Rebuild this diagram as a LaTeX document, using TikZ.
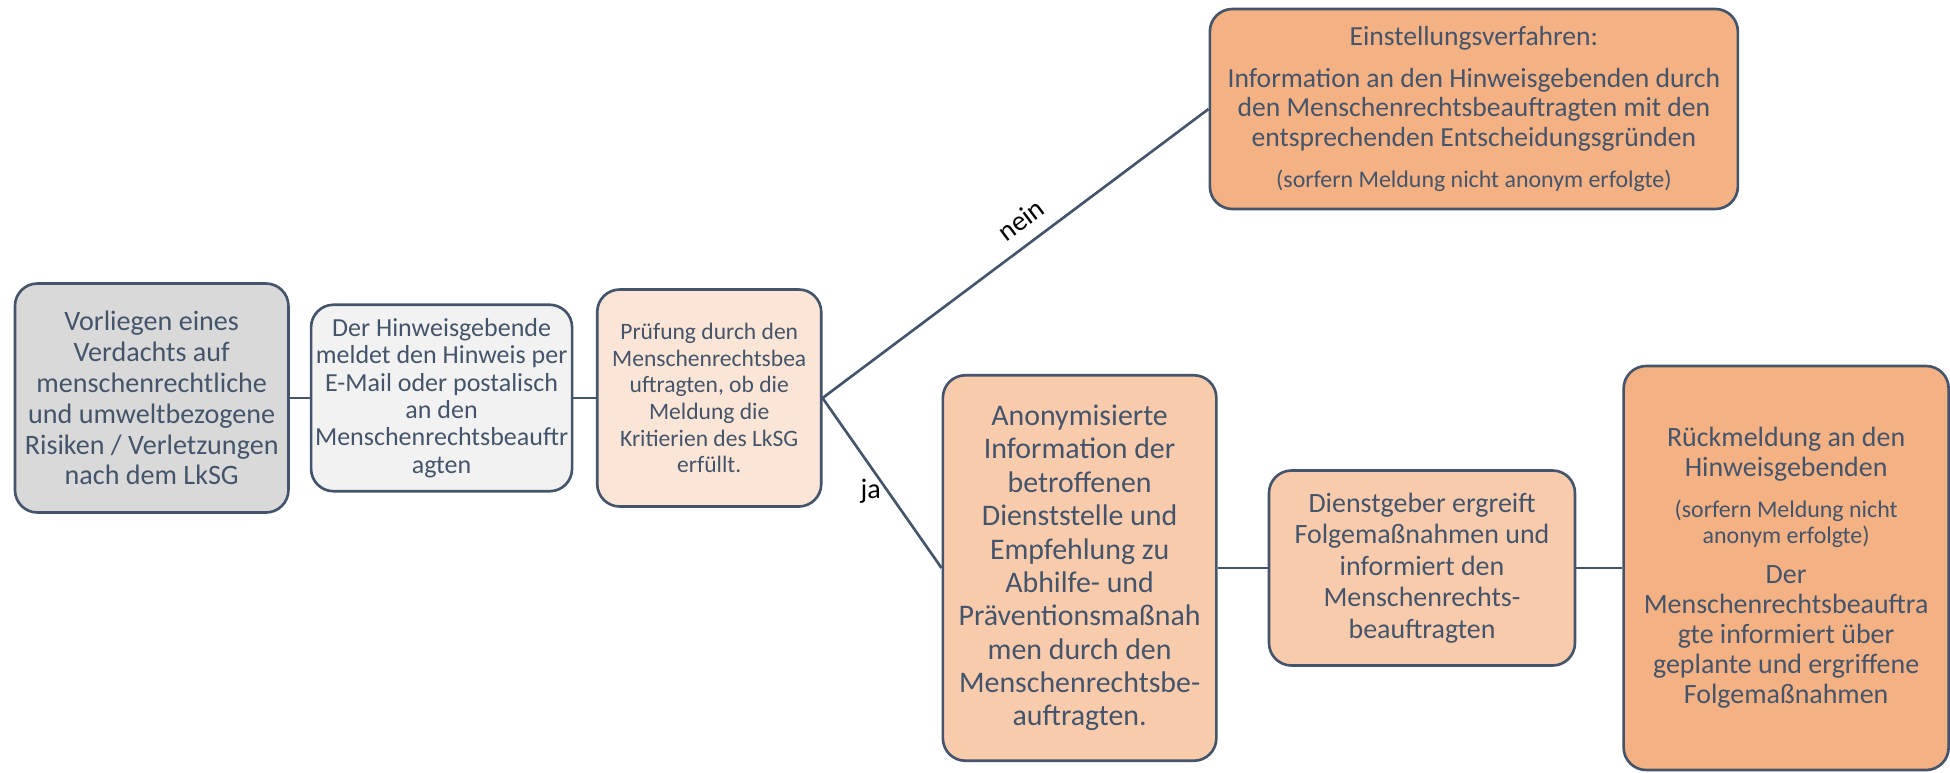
\documentclass[tikz,border=0pt]{standalone}
\usepackage{fontspec}
\setmainfont{Carlito}
\usetikzlibrary{positioning}
\definecolor{slate}{HTML}{44546A}
\definecolor{greybox}{HTML}{D9D9D9}
\definecolor{lightbox}{HTML}{F2F2F2}
\definecolor{paleorange}{HTML}{FBE5D6}
\definecolor{midorange}{HTML}{F8CBAD}
\definecolor{darkorange}{HTML}{F4B183}
\newcommand{\fs}[2]{\fontsize{#1}{#2}\selectfont}
\newcommand{\smallnote}[1]{{\fs{13.6}{14.6}#1}}
\tikzset{
  box/.style={draw=slate, line width=1.5pt, rounded corners=0.45cm, text=slate, align=center, inner sep=2pt},
  link/.style={draw=slate, line width=1.5pt},
  lbl/.style={text=black, font=\fs{16}{19}},
}

\begin{document}
\begin{tikzpicture}
 \useasboundingbox (0,0) rectangle (39,-15.44);
 \node [box, fill=greybox, minimum width=5.47cm, minimum height=4.58cm, font=\fs{16}{17.6}] (risk) at (3.034,-7.96)
   {Vorliegen eines\\Verdachts auf\\menschenrechtliche\\und umweltbezogene\\Risiken / Verletzungen\\nach dem LkSG};
 \node [box, fill=lightbox, minimum width=5.22cm, minimum height=3.73cm, font=\fs{14.8}{15.6}, right=0.4cm of risk] (meldung)
   {Der Hinweisgebende\\meldet den Hinweis per\\E-Mail oder postalisch\\an den\\Menschenrechtsbeauftr\\agten};
 \node [box, fill=paleorange, minimum width=4.48cm, minimum height=4.34cm, font=\fs{13.4}{15.2}, right=0.45cm of meldung] (pruefung)
   {Prüfung durch den\\Menschenrechtsbea\\uftragten, ob die\\Meldung die\\Kritierien des LkSG\\erfüllt.};
 \node [box, fill=darkorange, minimum width=10.56cm, minimum height=4cm, font=\fs{15.7}{16.8}, right=7.72cm of pruefung, yshift=5.78cm] (einstellung)
   {Einstellungsverfahren:\\[6.6pt]Information an den Hinweisgebenden durch\\den Menschenrechtsbeauftragten mit den\\entsprechenden Entscheidungsgründen\\[6.6pt]\smallnote{(sorfern Meldung nicht anonym erfolgte)}};
 \node [box, fill=midorange, minimum width=5.47cm, minimum height=7.71cm, font=\fs{17}{19}, right=2.38cm of pruefung, yshift=-3.4cm] (info)
   {Anonymisierte\\Information der\\betroffenen\\Dienststelle und\\Empfehlung zu\\Abhilfe- und\\Präventionsmaßnah\\men durch den\\Menschenrechtsbe-\\auftragten.};
 \node [box, fill=midorange, minimum width=6.12cm, minimum height=3.9cm, font=\fs{15.9}{18}, right=1cm of info] (dienstgeber)
   {Dienstgeber ergreift\\Folgemaßnahmen und\\informiert den\\Menschenrechts-\\beauftragten};
 \node [box, fill=darkorange, minimum width=6.5cm, minimum height=8.08cm, font=\fs{15.9}{17.1}, right=0.92cm of dienstgeber] (rueck)
   {Rückmeldung an den\\Hinweisgebenden\\[6.2pt]\smallnote{(sorfern Meldung nicht}\\[-2.5pt]\smallnote{anonym erfolgte)}\\[5.7pt]Der\\Menschenrechtsbeauftra\\gte informiert über\\geplante und ergriffene\\Folgemaßnahmen};
 \draw [link] (risk) -- (meldung);
 \draw [link] (meldung) -- (pruefung);
 \draw [link] (pruefung.east) -- node [lbl, sloped, above=4pt, pos=0.55] (nein) {nein} (einstellung.west);
 \draw [link] (pruefung.east) -- node [lbl, left, pos=0.55] (ja) {ja} (info.west);
 \draw [link] (info) -- (dienstgeber);
 \draw [link] (dienstgeber.east) -- (rueck.west);
\end{tikzpicture}
\end{document}
